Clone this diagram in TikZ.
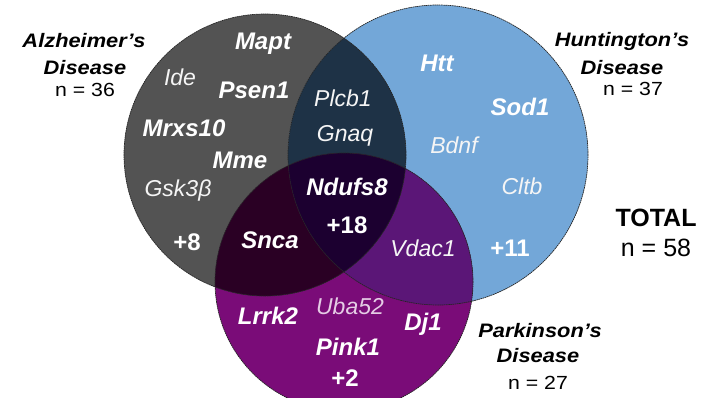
\documentclass[tikz,border=0pt]{standalone}
\usepackage{fontspec}
\setmainfont{Liberation Sans}
\newcommand\widetext[1]{\scalebox{1.12}[1]{#1}}
\begin{document}
\begin{tikzpicture}[x=1pt,y=-1pt,
  base/.style={inner sep=0pt, text depth=0pt, anchor=center},
  lbl/.style={base, text height=17.3pt, text=white, font=\bfseries\itshape\fontsize{24}{24}\selectfont},
  ilbl/.style={base, text height=16.6pt, text=white!92!gray, font=\itshape\fontsize{23}{23}\selectfont},
  num/.style={base, text height=17.3pt, text=white, font=\bfseries\fontsize{24}{24}\selectfont},
  outl/.style={base, text height=14pt, text=black, font=\bfseries\itshape\fontsize{19.5}{19.5}\selectfont},
  outn/.style={base, text height=13.7pt, text=black, font=\fontsize{19}{19}\selectfont},
  totl/.style={base, text height=18pt, text=black, font=\bfseries\fontsize{25}{25}\selectfont},
  totn/.style={base, text height=18pt, text=black, font=\fontsize{25}{25}\selectfont},
  rim/.style={draw=black!85, line width=0.7pt, dash pattern=on 1.6pt off 0.6pt}]
\definecolor{cAD}{HTML}{535353}
\definecolor{cHD}{HTML}{73A7D8}
\definecolor{cPD}{HTML}{7A0C78}
\definecolor{cADHD}{HTML}{1E3246}
\definecolor{cADPD}{HTML}{2A0024}
\definecolor{cHDPD}{HTML}{5B1677}
\definecolor{cALL}{HTML}{1C0030}
\clip (0,0) rectangle (701,397);
\fill[white] (0,0) rectangle (701,397);
\coordinate (AD) at (265,155);
\coordinate (HD) at (438,155);
\coordinate (PD) at (344,282);
% base circles
\fill[cAD] (AD) circle[radius=141pt];
\fill[cHD] (HD) circle[radius=150pt];
\fill[cPD] (PD) circle[radius=129pt];
% pairwise overlaps
\begin{scope}
  \clip (AD) circle[radius=141pt];
  \fill[cADHD] (HD) circle[radius=150pt];
\end{scope}
\begin{scope}
  \clip (AD) circle[radius=141pt];
  \fill[cADPD] (PD) circle[radius=129pt];
\end{scope}
\begin{scope}
  \clip (HD) circle[radius=150pt];
  \fill[cHDPD] (PD) circle[radius=129pt];
\end{scope}
\begin{scope}
  \clip (AD) circle[radius=141pt];
  \clip (HD) circle[radius=150pt];
  \fill[cALL] (PD) circle[radius=129pt];
\end{scope}
% outlines
\draw[rim] (AD) circle[radius=141pt];
\draw[rim] (HD) circle[radius=150pt];
\draw[rim] (PD) circle[radius=129pt];
% Alzheimer only
\node[lbl] (mapt) at (263,41) {Mapt};
\node[ilbl] (ide) at (180,77) {Ide};
\node[lbl] (psen) at (254,90) {Psen1};
\node[lbl] (mrxs) at (184,128) {Mrxs10};
\node[lbl] (mme) at (240,160) {Mme};
\node[ilbl] (gsk) at (178,188) {Gsk3β};
\node[num] (pad) at (187,242) {+8};
% AD & HD
\node[ilbl] (plcb) at (343,98) {Plcb1};
\node[ilbl] (gnaq) at (345,133) {Gnaq};
% Huntington only
\node[lbl] (htt) at (437,63) {Htt};
\node[lbl] (sod) at (520,107) {Sod1};
\node[ilbl] (bdnf) at (454,145) {Bdnf};
\node[ilbl] (cltb) at (522,186) {Cltb};
\node[num] (phd) at (510,248) {+11};
% all three
\node[lbl] (nduf) at (347,187) {Ndufs8};
\node[num] (pall) at (347,225) {+18};
% AD & PD
\node[lbl] (snca) at (270,240) {Snca};
% HD & PD
\node[ilbl] (vdac) at (423,248) {Vdac1};
% Parkinson only
\node[lbl] (lrrk) at (268,316) {Lrrk2};
\node[ilbl, text=white!80!violet] (uba) at (350,306) {Uba52};
\node[lbl] (dj) at (423,322) {Dj1};
\node[lbl] (pink) at (348,347) {Pink1};
\node[num] (ppd) at (345,378) {+2};
% outer labels
\node[outl] (adt1) at (84,40) {\widetext{Alzheimer's}};
\node[outl] (adt2) at (85,67) {\widetext{Disease}};
\node[outn] (adn) at (85,90) {\widetext{n = 36}};
\node[outl] (hdt1) at (622,39) {\widetext{Huntington's}};
\node[outl] (hdt2) at (622,67) {\widetext{Disease}};
\node[outn] (hdn) at (633,89) {\widetext{n = 37}};
\node[outl] (pdt1) at (540,330) {\widetext{Parkinson's}};
\node[outl] (pdt2) at (538,355) {\widetext{Disease}};
\node[outn] (pdn) at (538,383) {\widetext{n = 27}};
\node[totl] (tot1) at (656,217) {TOTAL};
\node[totn] (tot2) at (656,247) {n = 58};
\end{tikzpicture}
\end{document}
